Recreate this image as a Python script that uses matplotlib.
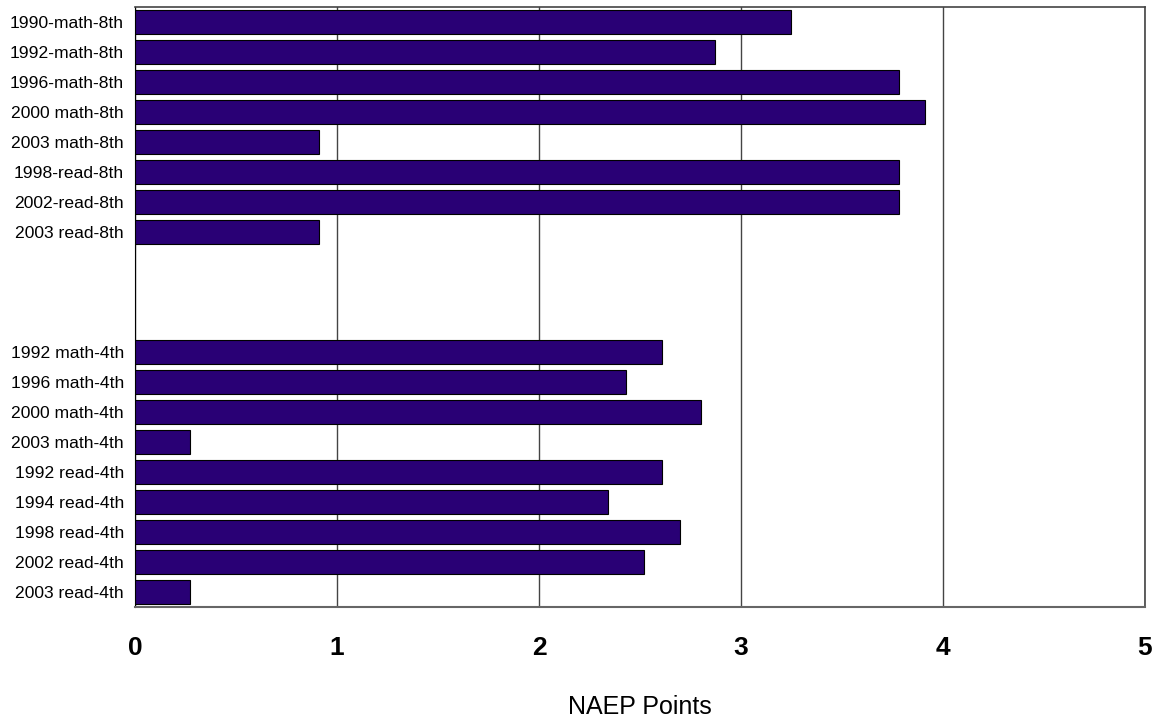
import matplotlib
matplotlib.use('Agg')
import matplotlib.pyplot as plt
import numpy as np

plt.rcParams['font.family'] = ['Liberation Sans', 'DejaVu Sans']

# 8th grade group (top) and 4th grade group (bottom)
labels_8th = ['1990-math-8th', '1992-math-8th', '1996-math-8th', '2000 math-8th',
              '2003 math-8th', '1998-read-8th', '2002-read-8th', '2003 read-8th']
values_8th = [3.25, 2.87, 3.78, 3.91, 0.91, 3.78, 3.78, 0.91]

labels_4th = ['1992 math-4th', '1996 math-4th', '2000 math-4th', '2003 math-4th',
              '1992 read-4th', '1994 read-4th', '1998 read-4th', '2002 read-4th',
              '2003 read-4th']
values_4th = [2.61, 2.43, 2.80, 0.27, 2.61, 2.34, 2.70, 2.52, 0.27]

n_gap = 3  # empty slots between the groups

labels = labels_8th + labels_4th
values = values_8th + values_4th
pos = list(range(len(labels_8th))) + \
      [len(labels_8th) + n_gap + i for i in range(len(labels_4th))]
n_slots = len(labels_8th) + n_gap + len(labels_4th)

fig = plt.figure(figsize=(11.7, 7.2), dpi=100)
ax = fig.add_axes([0.1154, 0.157, 0.8632, 0.8333])

ax.barh(pos, values, height=0.8, color='#290075', edgecolor='black',
        linewidth=0.8, zorder=3)

ax.set_xlim(0, 5)
ax.set_ylim(n_slots - 0.5, -0.5)
ax.set_xticks(np.arange(0, 6))
ax.set_yticks(pos)
ax.set_yticklabels(labels, fontsize=12.6)
ax.tick_params(axis='y', length=0, pad=8)
ax.tick_params(axis='x', length=0, pad=21, labelsize=19)
for t in ax.get_xticklabels():
    t.set_fontweight('bold')

ax.grid(axis='x', color='#444444', linewidth=1.0, zorder=0)
for s in ['top', 'right']:
    ax.spines[s].set_color('#444444')
    ax.spines[s].set_linewidth(1.2)
ax.spines['left'].set_color('black')
ax.spines['bottom'].set_color('#666666')
ax.spines['bottom'].set_linewidth(1.5)

ax.set_xlabel('NAEP Points', fontsize=18, labelpad=25)

plt.savefig('out.png', dpi=100)
